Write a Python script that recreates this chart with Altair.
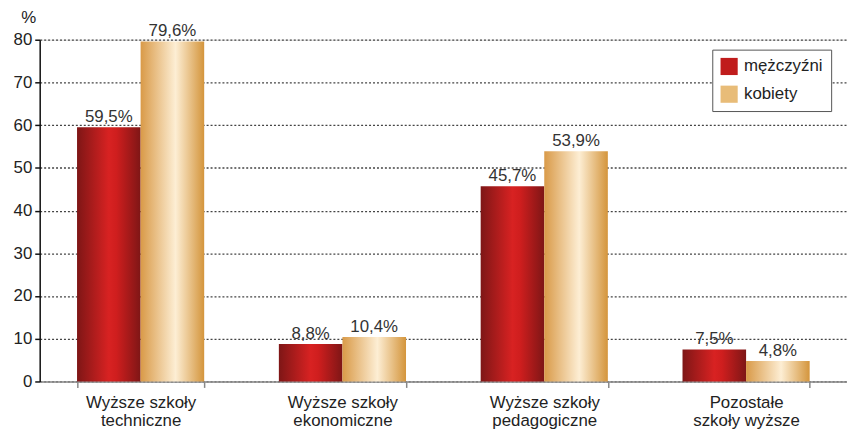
import altair as alt
import pandas as pd

categories = ["Wyższe szkoły|techniczne", "Wyższe szkoły|ekonomiczne",
              "Wyższe szkoły|pedagogiczne", "Pozostałe|szkoły wyższe"]
series = ["mężczyźni", "kobiety"]
men = [59.5, 8.8, 45.7, 7.5]
women = [79.6, 10.4, 53.9, 4.8]

rows = []
for c, m, w in zip(categories, men, women):
    rows.append({"cat": c, "series": series[0], "value": m})
    rows.append({"cat": c, "series": series[1], "value": w})
df = pd.DataFrame(rows)
df["label"] = df["value"].map(lambda v: f"{v:.1f}".replace(".", ",") + "%")

FONT = "Liberation Sans, Arial, sans-serif"

red_grad = alt.LinearGradient(
    gradient="linear", x1=0, y1=0, x2=1, y2=0,
    stops=[alt.GradientStop(offset=0, color="#7e1616"),
           alt.GradientStop(offset=0.5, color="#d82222"),
           alt.GradientStop(offset=0.62, color="#cf1e1e"),
           alt.GradientStop(offset=1, color="#7e1616")])
gold_grad = alt.LinearGradient(
    gradient="linear", x1=0, y1=0, x2=1, y2=0,
    stops=[alt.GradientStop(offset=0, color="#d99a48"),
           alt.GradientStop(offset=0.55, color="#fdeed4"),
           alt.GradientStop(offset=1, color="#d4953c")])

x_enc = alt.X("cat:N", sort=categories,
              scale=alt.Scale(paddingInner=0.37, paddingOuter=0.185),
              axis=alt.Axis(title=None, labelExpr="split(datum.label, '|')",
                            labelAngle=0, labelFont=FONT, labelFontSize=17,
                            labelColor="#222", labelLineHeight=18, labelPadding=7,
                            domainColor="#888", domainWidth=1.5,
                            tickBand="extent", tickColor="#888", tickSize=6,
                            tickWidth=1.5))
y_enc = alt.Y("value:Q", scale=alt.Scale(domain=[0, 80], nice=False),
              axis=alt.Axis(title="%", titleAngle=0, titleAlign="left",
                            titleX=-19, titleY=-13, titleFont=FONT,
                            titleFontSize=17, titleFontWeight="normal",
                            titleColor="#222",
                            values=list(range(0, 81, 10)),
                            labelFont=FONT, labelFontSize=17, labelColor="#222",
                            labelPadding=3,
                            domainColor="#111", domainWidth=1.5,
                            tickColor="#111", tickSize=5, tickWidth=1.5,
                            grid=True, gridColor="#444", gridDash=[2, 2],
                            gridWidth=1.3))
xo = alt.XOffset("series:N", scale=alt.Scale(domain=series))

base = alt.Chart(df)

bars_m = base.transform_filter(alt.datum.series == series[0]).mark_bar(
    fill=red_grad).encode(x=x_enc, y=y_enc, xOffset=xo)
bars_w = base.transform_filter(alt.datum.series == series[1]).mark_bar(
    fill=gold_grad).encode(x=x_enc, y=y_enc, xOffset=xo)
texts = base.mark_text(dy=-10, font=FONT, fontSize=17, color="#333").encode(
    x=x_enc, y=y_enc, xOffset=xo, text="label:N")
legend_layer = base.mark_square(size=0, opacity=0).encode(
    color=alt.Color("series:N",
                    scale=alt.Scale(domain=series, range=["#c01c1c", "#e8bc78"]),
                    legend=alt.Legend(title=None, orient="none", legendX=679,
                                      legendY=10, symbolType="square",
                                      symbolSize=300, symbolOpacity=1,
                                      symbolStrokeWidth=0,
                                      labelFont=FONT, labelFontSize=17,
                                      labelColor="#222", rowPadding=10,
                                      padding=8, strokeColor="#555",
                                      fillColor="white", labelOffset=6)))

chart = alt.layer(bars_m, bars_w, texts, legend_layer).properties(
    width=815, height=345,
    autosize=alt.AutoSizeParams(type="none"),
    padding={"left": 32, "top": 30, "right": 0, "bottom": 51},
).configure_view(stroke=None).configure(background="white")

chart.save("out.html", embed_options={"renderer": "svg", "actions": False})
